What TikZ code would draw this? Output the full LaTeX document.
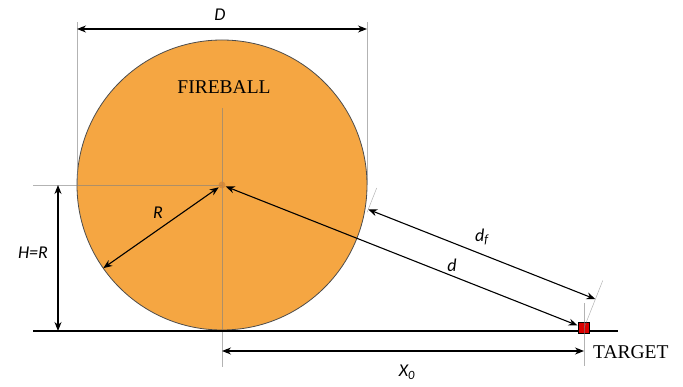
\documentclass[tikz,border=0pt]{standalone}
\usepackage{fontspec}
\setmainfont{Liberation Serif}
\newfontfamily\labfont{Carlito}
\usetikzlibrary{arrows.meta,calc}
\definecolor{fireorange}{RGB}{245,166,66}
\definecolor{dotcol}{RGB}{205,130,55}
\begin{document}
\begin{tikzpicture}[x=1pt,y=-1pt,
  dim/.style={{Stealth[length=9pt,width=7pt]}-{Stealth[length=9pt,width=7pt]}, line width=1.1pt},
  guide/.style={draw=gray, line width=0.5pt, opacity=0.6},
  lab/.style={font=\labfont\itshape\fontsize{18}{20}\selectfont, inner sep=0},
  caps/.style={font=\fontsize{19.5}{22}\selectfont, inner sep=0},
  ballstyle/.style={circle, draw=black!70, fill=fireorange, line width=0.8pt, minimum size=290pt, inner sep=0, outer sep=0},
  targetstyle/.style={draw=black, fill=red!85!black, line width=0.6pt, minimum size=11pt, inner sep=0, outer sep=0}
  ]
\useasboundingbox (0,0) rectangle (683,387);
\coordinate (C) at (222,185);
\node[ballstyle] (ball) at (C) {};
\node[caps] (fb) at (224,87) {FIREBALL};
% guides
\coordinate (dtop) at (0,22);
\coordinate (dy) at (0,29);
\coordinate (gl) at (33,331);
\coordinate (gr) at (618,331);
\coordinate (hl) at (33,185);
\coordinate (vtop) at (222,108);
\coordinate (vbot) at (222,367);
\draw[guide] (ball.west) -- (ball.west |- dtop);
\draw[guide] (ball.east) -- (ball.east |- dtop);
\draw[guide] (hl) -- (C);
\draw[guide] (vtop) -- (vbot);
\fill[dotcol, opacity=0.7] (C) circle (3.5);
% ground and target
\draw[line width=1.2pt] (gl) -- (gr);
\node[targetstyle] (target) at (584,328) {};
\coordinate (ttop) at (584,303);
\coordinate (tbot) at (584,366);
\draw[guide] (ttop) -- (tbot);
% D
\draw[dim] (ball.west |- dy) -- (ball.east |- dy);
\node[lab] (Dl) at (220,15) {D};
% H=R
\coordinate (h1) at (58,185);
\coordinate (h2) at (58,331);
\draw[dim] (h1) -- (h2);
\node[lab] (Hl) at (33,253) {H=R};
% R
\coordinate (rp) at ($(C)+(145:145)$);
\draw[dim, shorten <=4pt] (C) -- (rp);
\node[lab] (Rl) at (158,213) {R};
% X0
\coordinate (x1) at (222,351);
\coordinate (x2) at (584,351);
\draw[dim] (x1) -- (x2);
\node[lab] (Xl) at (407,372) {X\textsubscript{0}};
% d
\draw[dim, shorten <=4pt, shorten >=7pt] (C) -- (target.center);
\node[lab] (dl) at (452,265) {d};
% df
\coordinate (q) at ($(C)+(21.55:145)$);
\coordinate (p1) at ($(q)+(-68.45:31)$);
\coordinate (p2) at ($(target.center)+(-68.45:31)$);
\coordinate (e1a) at ($(q)+(-68.45:28)$);
\coordinate (e1b) at ($(q)+(-68.45:54)$);
\coordinate (e2b) at ($(target.center)+(-68.45:51)$);
\draw[guide] (e1a) -- (e1b);
\draw[guide] (target.center) -- (e2b);
\draw[dim] (p1) -- (p2);
\node[lab] (dfl) at (482,237) {d\textsubscript{f}};
\node[caps, anchor=west] (tl) at (593,352) {TARGET};
\end{tikzpicture}
\end{document}
